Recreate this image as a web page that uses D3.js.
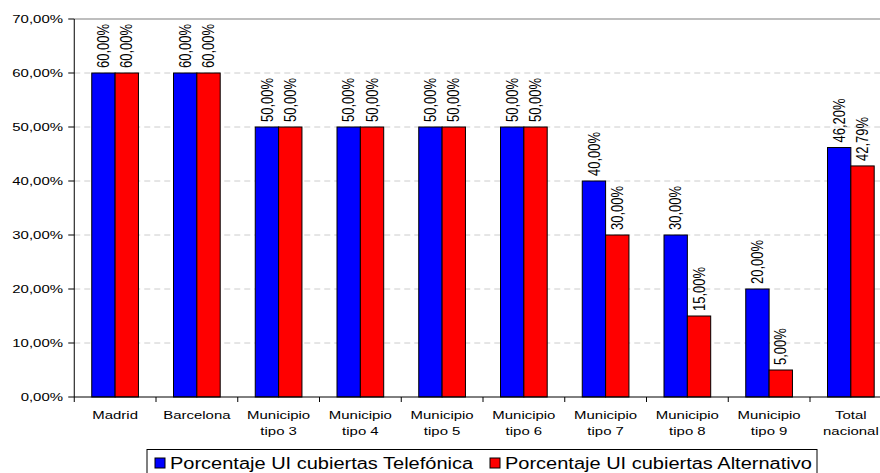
<!DOCTYPE html>
<html>
<head>
<meta charset="utf-8">
<script src="https://cdn.jsdelivr.net/npm/d3@7"></script>
<style>
  html, body { margin: 0; padding: 0; background: #fff; }
  svg { display: block; font-family: Arial, "Liberation Sans", sans-serif; }
</style>
</head>
<body>
<svg id="chart" width="880" height="473"></svg>
<script>
// Coverage by municipality type (percent)
const categories = [
  ["Madrid"], ["Barcelona"],
  ["Municipio", "tipo 3"], ["Municipio", "tipo 4"], ["Municipio", "tipo 5"],
  ["Municipio", "tipo 6"], ["Municipio", "tipo 7"], ["Municipio", "tipo 8"],
  ["Municipio", "tipo 9"], ["Total", "nacional"]
];
const seriesNames = ["Porcentaje UI cubiertas Telefónica", "Porcentaje UI cubiertas Alternativo"];
const telefonica = [60, 60, 50, 50, 50, 50, 40, 30, 20, 46.20];
const alternativo = [60, 60, 50, 50, 50, 50, 30, 15, 5, 42.79];
const seriesColors = ["#0000ff", "#ff0000"];
const yTicks = [0, 10, 20, 30, 40, 50, 60, 70];

const svg = d3.select("#chart");
const loc = d3.formatLocale({ decimal: ",", thousands: ".", grouping: [3], currency: ["", "€"] });
const pct = v => loc.format(".2f")(v) + "%";

const plotLeft = 74.25, plotRight = 891.75, plotTop = 19, plotBottom = 397;
const keys = categories.map((c, i) => i);

const x0 = d3.scaleBand().domain(keys).range([plotLeft, plotRight]).padding(0);
const x1 = d3.scaleBand().domain([0, 1]).range([17.5, 64.2]).padding(0);
const y = d3.scaleLinear().domain([0, 70]).range([plotBottom, plotTop]);

// horizontal grid
svg.append("g").selectAll("line")
  .data(yTicks.filter(t => t > 0))
  .join("line")
  .attr("x1", plotLeft).attr("x2", plotRight)
  .attr("y1", d => y(d)).attr("y2", d => y(d))
  .attr("stroke", d => d === 70 ? "#a8a8a8" : "#cccccc")
  .attr("stroke-width", d => d === 70 ? 1.5 : 1)
  .attr("stroke-dasharray", d => d === 70 ? null : "6,4");

// bars
const rows = keys.map(i => [telefonica[i], alternativo[i]]);
const groups = svg.append("g").selectAll("g")
  .data(rows)
  .join("g")
  .attr("transform", (d, i) => `translate(${x0(i)},0)`);

groups.selectAll("rect")
  .data(d => d.map((v, s) => ({ v, s })))
  .join("rect")
  .attr("x", d => x1(d.s))
  .attr("y", d => y(d.v))
  .attr("width", x1.bandwidth())
  .attr("height", d => y(0) - y(d.v))
  .attr("fill", d => seriesColors[d.s])
  .attr("stroke", "#000")
  .attr("stroke-width", 1);

// value labels, rotated
groups.selectAll("text")
  .data(d => d.map((v, s) => ({ v, s })))
  .join("text")
  .attr("transform", d => `translate(${x1(d.s) + x1.bandwidth() / 2},${y(d.v) - 5}) scale(1.2,1) rotate(-90)`)
  .attr("dy", "0.36em")
  .attr("font-size", 13)
  .attr("fill", "#000")
  .text(d => pct(d.v));

// y axis
const yAxis = svg.append("g");
yAxis.append("line")
  .attr("x1", plotLeft).attr("x2", plotLeft).attr("y1", plotTop).attr("y2", plotBottom)
  .attr("stroke", "#000");
yAxis.selectAll("line.tick")
  .data(yTicks)
  .join("line")
  .attr("class", "tick")
  .attr("x1", plotLeft - 6).attr("x2", plotLeft)
  .attr("y1", d => y(d)).attr("y2", d => y(d))
  .attr("stroke", "#000");
yAxis.selectAll("text")
  .data(yTicks)
  .join("text")
  .attr("transform", d => `translate(63,${y(d)}) scale(1.3,1)`)
  .attr("text-anchor", "end")
  .attr("dy", "0.36em")
  .attr("font-size", 11.5)
  .text(d => pct(d));

// x axis
const xAxis = svg.append("g");
xAxis.append("line")
  .attr("x1", plotLeft).attr("x2", plotRight).attr("y1", plotBottom).attr("y2", plotBottom)
  .attr("stroke", "#000");
xAxis.selectAll("line.tick")
  .data(d3.range(categories.length + 1))
  .join("line")
  .attr("class", "tick")
  .attr("x1", i => plotLeft + i * x0.step()).attr("x2", i => plotLeft + i * x0.step())
  .attr("y1", plotBottom).attr("y2", plotBottom + 5)
  .attr("stroke", "#000");
const catLabels = xAxis.selectAll("g.cat")
  .data(categories)
  .join("g")
  .attr("class", "cat")
  .attr("transform", (d, i) => `translate(${x0(i) + x0.bandwidth() / 2},0)`);
catLabels.selectAll("text")
  .data(d => d)
  .join("text")
  .attr("transform", (d, j) => `translate(0,${419 + j * 15.5}) scale(1.3,1)`)
  .attr("text-anchor", "middle")
  .attr("font-size", 11.5)
  .text(d => d);

// legend
const legend = svg.append("g");
legend.append("rect")
  .attr("x", 147).attr("y", 449.5).attr("width", 670).attr("height", 30)
  .attr("fill", "#fff").attr("stroke", "#000").attr("stroke-width", 1);
const legendX = [155, 490];
const items = legend.selectAll("g.item")
  .data(seriesNames)
  .join("g")
  .attr("class", "item")
  .attr("transform", (d, i) => `translate(${legendX[i]},0)`);
items.append("rect")
  .attr("x", 0).attr("y", 458).attr("width", 10).attr("height", 10)
  .attr("fill", (d, i) => seriesColors[i])
  .attr("stroke", "#000").attr("stroke-width", 1);
items.append("text")
  .attr("transform", "translate(15,468.5) scale(1.25,1)")
  .attr("font-size", 16)
  .text(d => d);
</script>
</body>
</html>
